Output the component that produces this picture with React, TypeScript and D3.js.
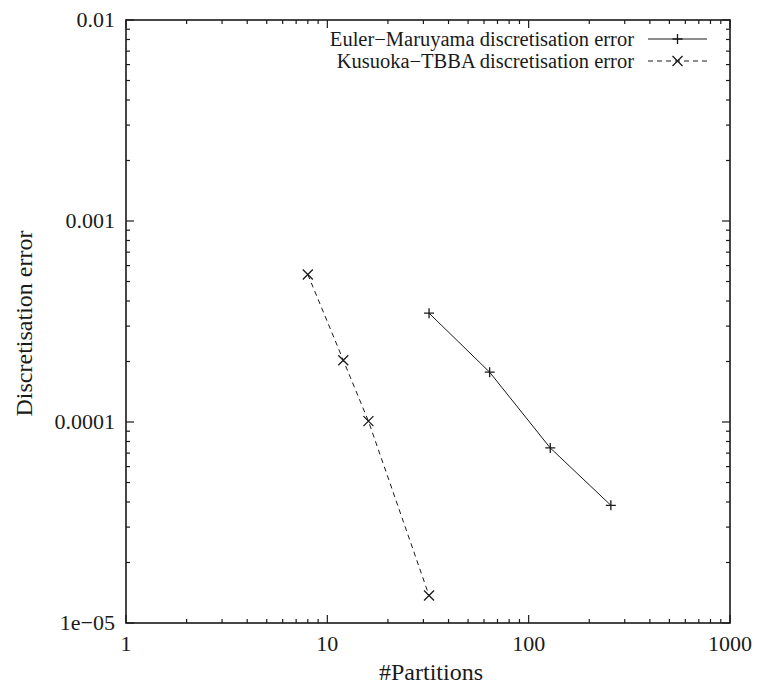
import React, { useEffect, useRef } from 'react';
import * as d3 from 'd3';

const eulerPartitions = [32, 64, 128, 256];
const eulerErrors = [3.48e-4, 1.77e-4, 7.43e-5, 3.85e-5];

const kusuokaPartitions = [8, 12, 16, 32];
const kusuokaErrors = [5.42e-4, 2.03e-4, 1.01e-4, 1.37e-5];

const xTicks = [1, 10, 100, 1000];
const yTicks = [1e-5, 1e-4, 1e-3, 1e-2];
const yTickLabels = ['1e\u221205', '0.0001', '0.001', '0.01'];

const WIDTH = 757;
const HEIGHT = 687;
const FONT = "'Liberation Serif', 'Times New Roman', Times, 'DejaVu Serif', serif";
const INK = '#1a1a1a';

const App: React.FC = () => {
  const svgRef = useRef<SVGSVGElement>(null);

  useEffect(() => {
    if (!svgRef.current) return;
    const svg = d3.select(svgRef.current);
    svg.selectAll('*').remove();

    const left = 126, right = 730, top = 20, bottom = 623;

    const x = d3.scaleLog().domain([1, 1000]).range([left, right]);
    const y = d3.scaleLog().domain([1e-5, 1e-2]).range([bottom, top]);

    svg.append('rect').attr('width', WIDTH).attr('height', HEIGHT).attr('fill', 'white');

    const g = svg.append('g');

    // minor + major ticks on all four sides (gnuplot mirror style)
    const minorX: number[] = [];
    for (let d = 1; d < 1000; d *= 10) for (let k = 2; k <= 9; k++) minorX.push(d * k);
    const minorY: number[] = [];
    for (let d = 1e-5; d < 1e-2 * 0.999; d *= 10) for (let k = 2; k <= 9; k++) minorY.push(d * k);

    const ticks = g.append('g').attr('stroke', INK).attr('stroke-width', 1.2);
    minorX.forEach(v => {
      ticks.append('line').attr('x1', x(v)).attr('x2', x(v)).attr('y1', bottom).attr('y2', bottom - 4);
      ticks.append('line').attr('x1', x(v)).attr('x2', x(v)).attr('y1', top).attr('y2', top + 4);
    });
    xTicks.forEach(v => {
      ticks.append('line').attr('x1', x(v)).attr('x2', x(v)).attr('y1', bottom).attr('y2', bottom - 8);
      ticks.append('line').attr('x1', x(v)).attr('x2', x(v)).attr('y1', top).attr('y2', top + 8);
    });
    minorY.forEach(v => {
      ticks.append('line').attr('x1', left).attr('x2', left + 4).attr('y1', y(v)).attr('y2', y(v));
      ticks.append('line').attr('x1', right).attr('x2', right - 4).attr('y1', y(v)).attr('y2', y(v));
    });
    yTicks.forEach(v => {
      ticks.append('line').attr('x1', left).attr('x2', left + 8).attr('y1', y(v)).attr('y2', y(v));
      ticks.append('line').attr('x1', right).attr('x2', right - 8).attr('y1', y(v)).attr('y2', y(v));
    });

    // border
    g.append('rect')
      .attr('x', left).attr('y', top)
      .attr('width', right - left).attr('height', bottom - top)
      .attr('fill', 'none').attr('stroke', INK).attr('stroke-width', 1.6);

    // tick labels
    const text = svg.append('g').style('font-family', FONT).attr('font-size', 22).attr('fill', INK);
    xTicks.forEach(v => {
      text.append('text').attr('x', x(v)).attr('y', 651).attr('text-anchor', 'middle').text(String(v));
    });
    yTicks.forEach((v, i) => {
      text.append('text').attr('x', 115).attr('y', y(v)).attr('dy', '0.33em')
        .attr('text-anchor', 'end').text(yTickLabels[i]);
    });

    text.append('text').attr('x', (left + right) / 2 + 3).attr('y', 680).attr('font-size', 24)
      .attr('text-anchor', 'middle').text('#Partitions');
    text.append('text').attr('font-size', 24)
      .attr('transform', `translate(32,${(top + bottom) / 2 + 2}) rotate(-90)`)
      .attr('text-anchor', 'middle').text('Discretisation error');

    const line = d3.line<[number, number]>().x(d => x(d[0])).y(d => y(d[1]));

    const plus = (sel: d3.Selection<SVGGElement, unknown, null, undefined>, cx: number, cy: number) => {
      sel.append('path').attr('d', `M${cx - 5},${cy}H${cx + 5}M${cx},${cy - 5}V${cy + 5}`);
    };
    const cross = (sel: d3.Selection<SVGGElement, unknown, null, undefined>, cx: number, cy: number) => {
      sel.append('path').attr('d', `M${cx - 5},${cy - 5}L${cx + 5},${cy + 5}M${cx - 5},${cy + 5}L${cx + 5},${cy - 5}`);
    };

    const eulerData = eulerPartitions.map((p, i) => [p, eulerErrors[i]] as [number, number]);
    const kusuokaData = kusuokaPartitions.map((p, i) => [p, kusuokaErrors[i]] as [number, number]);

    const series = svg.append('g').attr('stroke', INK).attr('fill', 'none').attr('stroke-width', 1);

    series.append('path').attr('d', line(eulerData));
    const em = series.append('g').attr('stroke-width', 1.3);
    eulerData.forEach(d => plus(em, x(d[0]), y(d[1])));

    series.append('path').attr('d', line(kusuokaData)).attr('stroke-dasharray', '5,4');
    const km = series.append('g').attr('stroke-width', 1.3);
    kusuokaData.forEach(d => cross(km, x(d[0]), y(d[1])));

    // legend
    const legend = svg.append('g');
    const lt = legend.append('g').style('font-family', FONT).attr('font-size', 20.5).attr('fill', INK)
      .attr('text-anchor', 'end');
    lt.append('text').attr('x', 634).attr('y', 39).attr('dy', '0.33em').text('Euler\u2212Maruyama discretisation error');
    lt.append('text').attr('x', 634).attr('y', 61).attr('dy', '0.33em').text('Kusuoka\u2212TBBA discretisation error');
    const ll = legend.append('g').attr('stroke', INK).attr('fill', 'none').attr('stroke-width', 1);
    ll.append('line').attr('x1', 648).attr('x2', 707).attr('y1', 39).attr('y2', 39);
    ll.append('line').attr('x1', 648).attr('x2', 707).attr('y1', 61).attr('y2', 61).attr('stroke-dasharray', '5,4');
    const lm = ll.append('g').attr('stroke-width', 1.3);
    plus(lm, 677.5, 39);
    cross(lm, 677.5, 61);
  }, []);

  return (
    <div style={{ position: 'absolute', left: 0, top: 0 }}>
      <svg ref={svgRef} width={WIDTH} height={HEIGHT} style={{ display: 'block' }} />
    </div>
  );
};

export default App;
